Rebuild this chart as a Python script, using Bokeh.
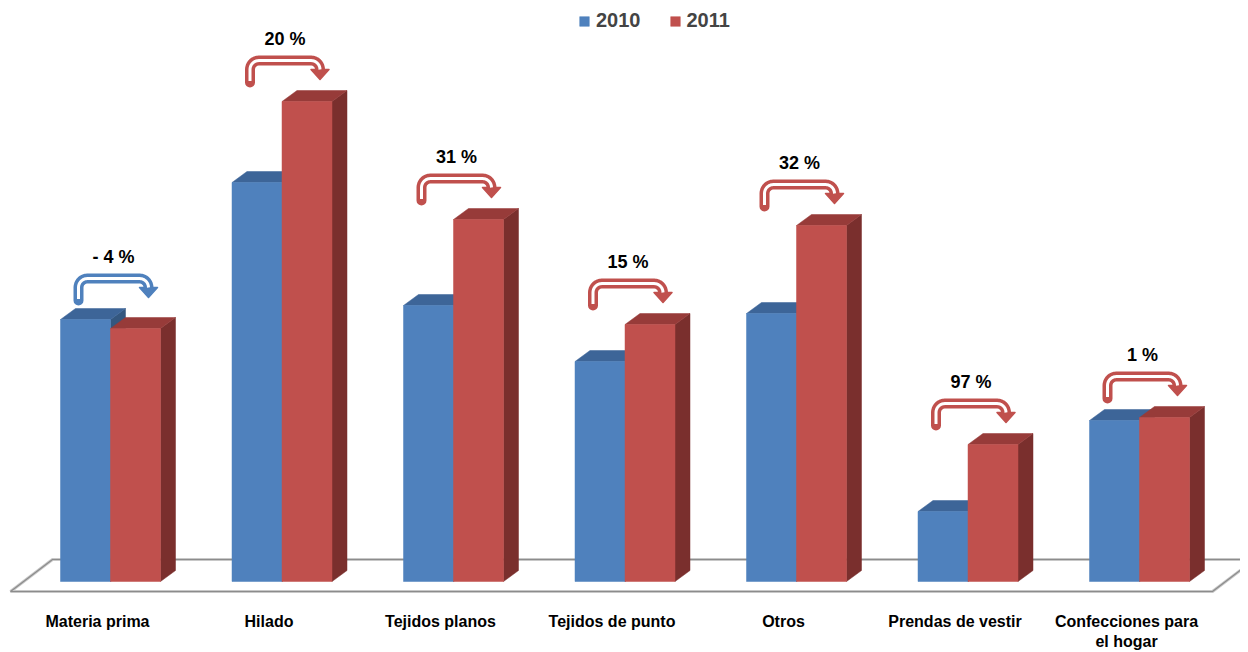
import numpy as np
from bokeh.plotting import figure
from bokeh.models import Range1d, FixedTicker, Legend, LegendItem
from bokeh.core.properties import value
from bokeh.embed import file_html
from bokeh.resources import INLINE

# ---------------- data ----------------
categorias = ["Materia prima", "Hilado", "Tejidos planos", "Tejidos de punto",
              "Otros", "Prendas de vestir", "Confecciones para\nel hogar"]
valores_2010 = [262, 399, 276, 220, 268, 70, 161]
valores_2011 = [253, 480, 362, 257, 356, 137, 164]
variacion = ["- 4 %", "20 %", "31 %", "15 %", "32 %", "97 %", "1 %"]
series = ["2010", "2011"]

# ---------------- style ----------------
BLUE, BLUE_TOP, BLUE_SIDE = "#4F81BD", "#3D6598", "#34577F"
RED, RED_TOP, RED_SIDE = "#C0504D", "#973B39", "#7A2F2D"
FONT = value("Liberation Sans")

PX = 171.5            # pixels per category
FW, FH = 1240, 596    # frame size
W = 50 / PX           # bar width in category units
DX, DY = 15 / PX, 11  # 3D depth offsets
n = len(categorias)
xs0 = -110 / PX

p = figure(frame_width=FW, frame_height=FH, output_backend="svg", toolbar_location=None,
           x_range=Range1d(xs0, xs0 + FW / PX), y_range=Range1d(581 - FH, 581),
           min_border_left=0, min_border_right=0, min_border_top=0, min_border_bottom=0)
p.outline_line_color = None
p.grid.visible = False
p.yaxis.visible = False
p.background_fill_color = "white"

# ---------------- floor ----------------
fl = [-100 / PX, (n - 1) + 73 / PX]
fdx = 42 / PX
p.line([fl[1] + fdx, fl[0] + fdx, fl[0], fl[1], fl[1] + fdx],
       [22, 22, -10, -10, 22], line_color="#C8C8C8", line_width=3)
p.line([fl[1] + fdx, fl[0] + fdx, fl[0], fl[1], fl[1] + fdx],
       [22, 22, -10, -10, 22], line_color="#8C8C8C", line_width=1.2)

# ---------------- 3D bars ----------------
def faces(x0, x1, v):
    top = ([x0, x0 + DX, x1 + DX, x1], [v, v + DY, v + DY, v])
    side = ([x1, x1 + DX, x1 + DX, x1], [0, DY, v + DY, v])
    return top, side

cx = np.arange(n, dtype=float)
bt, bs, rt, rs = [], [], [], []
for i in range(n):
    t, s = faces(cx[i] - W, cx[i], valores_2010[i]); bt.append(t); bs.append(s)
    t, s = faces(cx[i], cx[i] + W, valores_2011[i]); rt.append(t); rs.append(s)

p.patches([a[0] for a in bs], [a[1] for a in bs], fill_color=BLUE_SIDE, line_color=BLUE_SIDE, line_width=0.5)
p.patches([a[0] for a in bt], [a[1] for a in bt], fill_color=BLUE_TOP, line_color=BLUE_TOP, line_width=0.5)
r10 = p.quad(left=cx - W, right=cx, bottom=0, top=valores_2010,
             fill_color=BLUE, line_color=BLUE, line_width=0.5)
p.patches([a[0] for a in rs], [a[1] for a in rs], fill_color=RED_SIDE, line_color=RED_SIDE, line_width=0.5)
p.patches([a[0] for a in rt], [a[1] for a in rt], fill_color=RED_TOP, line_color=RED_TOP, line_width=0.5)
r11 = p.quad(left=cx, right=cx + W, bottom=0, top=valores_2011,
             fill_color=RED, line_color=RED, line_width=0.5)

# ---------------- bent arrows with change labels ----------------
def arrow_path(c, T, shift=3, half=35, r=9, drop=22, end=9):
    L, R = shift - half, shift + half
    pts = [(L, T - drop), (L, T - r)]
    for a in np.linspace(np.pi, np.pi / 2, 10):
        pts.append((L + r + r * np.cos(a), T - r + r * np.sin(a)))
    for a in np.linspace(np.pi / 2, 0, 10):
        pts.append((R - r + r * np.cos(a), T - r + r * np.sin(a)))
    pts.append((R, T - end))
    xs = [c + q[0] / PX for q in pts]
    ys = [q[1] for q in pts]
    head = ([c + (R - 9) / PX, c + (R + 9) / PX, c + R / PX], [T - end, T - end, T - end - 10])
    return xs, ys, head

lab_x, lab_y = [], []
for i in range(n):
    v10, v11 = valores_2010[i], valores_2011[i]
    col = RED if v11 >= v10 else BLUE
    T = max(v10, v11) + 41
    xs, ys, head = arrow_path(cx[i], T)
    p.line(xs, ys, line_color=col, line_width=10, line_join="round", line_cap="round")
    p.patch(head[0], head[1], fill_color=col, line_color=col, line_width=1.5, line_join="round")
    p.line(xs, [y + (1.5 if k == 0 else 0) for k, y in enumerate(ys)],
           line_color="white", line_width=3, line_join="round")
    lab_x.append(cx[i] + 3 / PX)
    lab_y.append(T + 22)

p.text(x=lab_x, y=lab_y, text=variacion, text_font=FONT, text_font_style="bold",
       text_font_size="18px", text_align="center", text_baseline="middle", text_color="black")

# ---------------- category axis (labels sit slightly left, as in 3D perspective) ----------------
tick_pos = [round(i - 13 / PX, 4) for i in range(n)]
ax = p.xaxis[0]
ax.ticker = FixedTicker(ticks=tick_pos)
ax.major_label_overrides = {tick_pos[i]: categorias[i] for i in range(n)}
ax.axis_line_color = None
ax.major_tick_line_color = None
ax.minor_tick_line_color = None
ax.major_label_text_font = "Liberation Sans"
ax.major_label_text_font_style = "bold"
ax.major_label_text_font_size = "16px"
ax.major_label_text_color = "black"
ax.major_label_standoff = 10

# ---------------- legend ----------------
legend = Legend(items=[LegendItem(label=series[0], renderers=[r10]),
                       LegendItem(label=series[1], renderers=[r11])],
                orientation="horizontal", location=(578, FH - 32),
                label_text_font="Liberation Sans", label_text_font_style="bold",
                label_text_font_size="20px", glyph_width=12, glyph_height=12,
                label_standoff=6, spacing=28, padding=0, margin=0,
                border_line_alpha=0, background_fill_alpha=0)
p.add_layout(legend)

open("out.html", "w").write(file_html(p, INLINE))
